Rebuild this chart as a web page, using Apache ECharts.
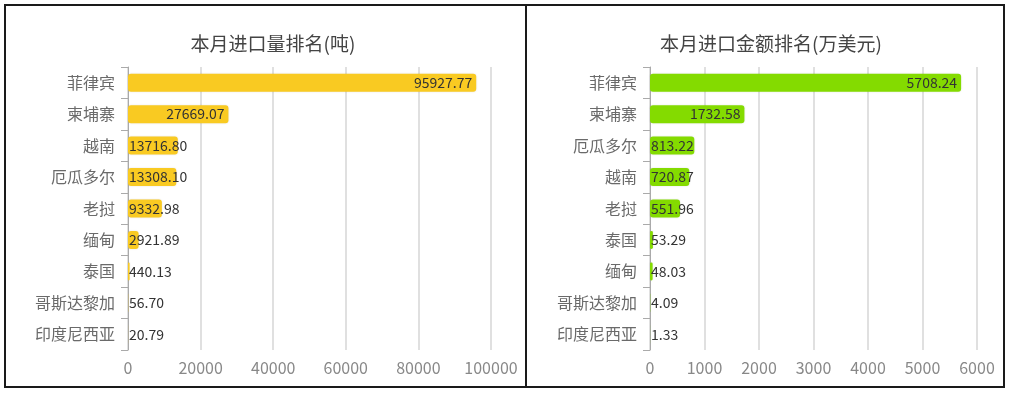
<!DOCTYPE html>
<html>
<head>
<meta charset="utf-8">
<script src="https://cdn.jsdelivr.net/npm/echarts@6/dist/echarts.min.js"></script>
<style>
html,body{margin:0;padding:0;background:#fff;}
#c{width:1011px;height:394px;}
</style>
</head>
<body>
<div id="c"></div>
<script>
const qtyTitle = '本月进口量排名(吨)';
const amtTitle = '本月进口金额排名(万美元)';
const qtyCats = ['菲律宾','柬埔寨','越南','厄瓜多尔','老挝','缅甸','泰国','哥斯达黎加','印度尼西亚'];
const qtyVals = [95927.77, 27669.07, 13716.80, 13308.10, 9332.98, 2921.89, 440.13, 56.70, 20.79];
const amtCats = ['菲律宾','柬埔寨','厄瓜多尔','越南','老挝','泰国','缅甸','哥斯达黎加','印度尼西亚'];
const amtVals = [5708.24, 1732.58, 813.22, 720.87, 551.96, 53.29, 48.03, 4.09, 1.33];

const FONT = '"Noto Sans CJK SC", "Noto Sans", sans-serif';
const LABEL_SIZE = 14;

const chart = echarts.init(document.getElementById('c'), null, {renderer: 'canvas'});

function catAxis(gi, cats) {
  return {
    type: 'category', gridIndex: gi, data: cats, inverse: true,
    axisLine: {show: true, lineStyle: {color: '#aaa', width: 1}},
    axisTick: {show: true, length: 7, lineStyle: {color: '#aaa'}},
    axisLabel: {color: '#6a6a6a', fontSize: 16, fontFamily: FONT, margin: 13},
    splitLine: {show: false}
  };
}
function valAxis(gi, max, interval) {
  return {
    type: 'value', gridIndex: gi, min: 0, max: max, interval: interval,
    axisLine: {show: false}, axisTick: {show: false},
    axisLabel: {color: '#888', fontSize: 16, fontFamily: FONT, margin: 10,
                formatter: v => String(v)},
    splitLine: {show: true, lineStyle: {color: '#e0e0e0', width: 2}}
  };
}
function barSeries(gi, vals, color, positions) {
  return {
    type: 'bar', xAxisIndex: gi, yAxisIndex: gi, barWidth: 18,
    data: vals.map((v, i) => {
      const pos = positions ? positions[i] : 'insideRight';
      return {value: v, label: {position: pos, distance: pos === 'insideLeft' ? 1 : 4}};
    }),
    itemStyle: {color: color, borderRadius: 3, shadowBlur: 2, shadowColor: 'rgba(0,0,0,0.12)'},
    label: {
      show: true, color: '#333', fontSize: LABEL_SIZE, fontFamily: FONT, distance: 4,
      formatter: p => Number(p.value).toFixed(2)
    },
    z: 3
  };
}

function buildOption(posQ, posA) {
  return {
    animation: false,
    backgroundColor: '#fff',
    title: [
      {text: qtyTitle, left: 268, top: 29, textAlign: 'center',
       textStyle: {fontSize: 19, fontWeight: 'normal', color: '#444', fontFamily: FONT}},
      {text: amtTitle, left: 766, top: 29, textAlign: 'center',
       textStyle: {fontSize: 19, fontWeight: 'normal', color: '#444', fontFamily: FONT}}
    ],
    grid: [
      {left: 128, right: 520, top: 67, bottom: 44, containLabel: false},
      {left: 650, right: 34, top: 67, bottom: 44, containLabel: false}
    ],
    xAxis: [valAxis(0, 100000, 20000), valAxis(1, 6000, 1000)],
    yAxis: [catAxis(0, qtyCats), catAxis(1, amtCats)],
    series: [
      barSeries(0, qtyVals, '#F9CA22', posQ),
      barSeries(1, amtVals, '#84DB00', posA)
    ],
    graphic: [
      {type: 'rect', shape: {x: 5, y: 5, width: 521, height: 382},
       style: {fill: 'none', stroke: '#1a1a1a', lineWidth: 2}, silent: true},
      {type: 'rect', shape: {x: 526, y: 5, width: 478, height: 382},
       style: {fill: 'none', stroke: '#1a1a1a', lineWidth: 2}, silent: true}
    ]
  };
}

chart.setOption(buildOption(null, null));

// Labels that don't fit inside their bar start at the bar's base instead.
const ctx = document.createElement('canvas').getContext('2d');
ctx.font = LABEL_SIZE + 'px ' + FONT;
function positions(gi, vals) {
  const base = chart.convertToPixel({gridIndex: gi}, [0, 0])[0];
  return vals.map(v => {
    const end = chart.convertToPixel({gridIndex: gi}, [v, 0])[0];
    const w = ctx.measureText(v.toFixed(2)).width + 8;
    return (end - base) >= w ? 'insideRight' : 'insideLeft';
  });
}
chart.setOption(buildOption(positions(0, qtyVals), positions(1, amtVals)));
</script>
</body>
</html>
